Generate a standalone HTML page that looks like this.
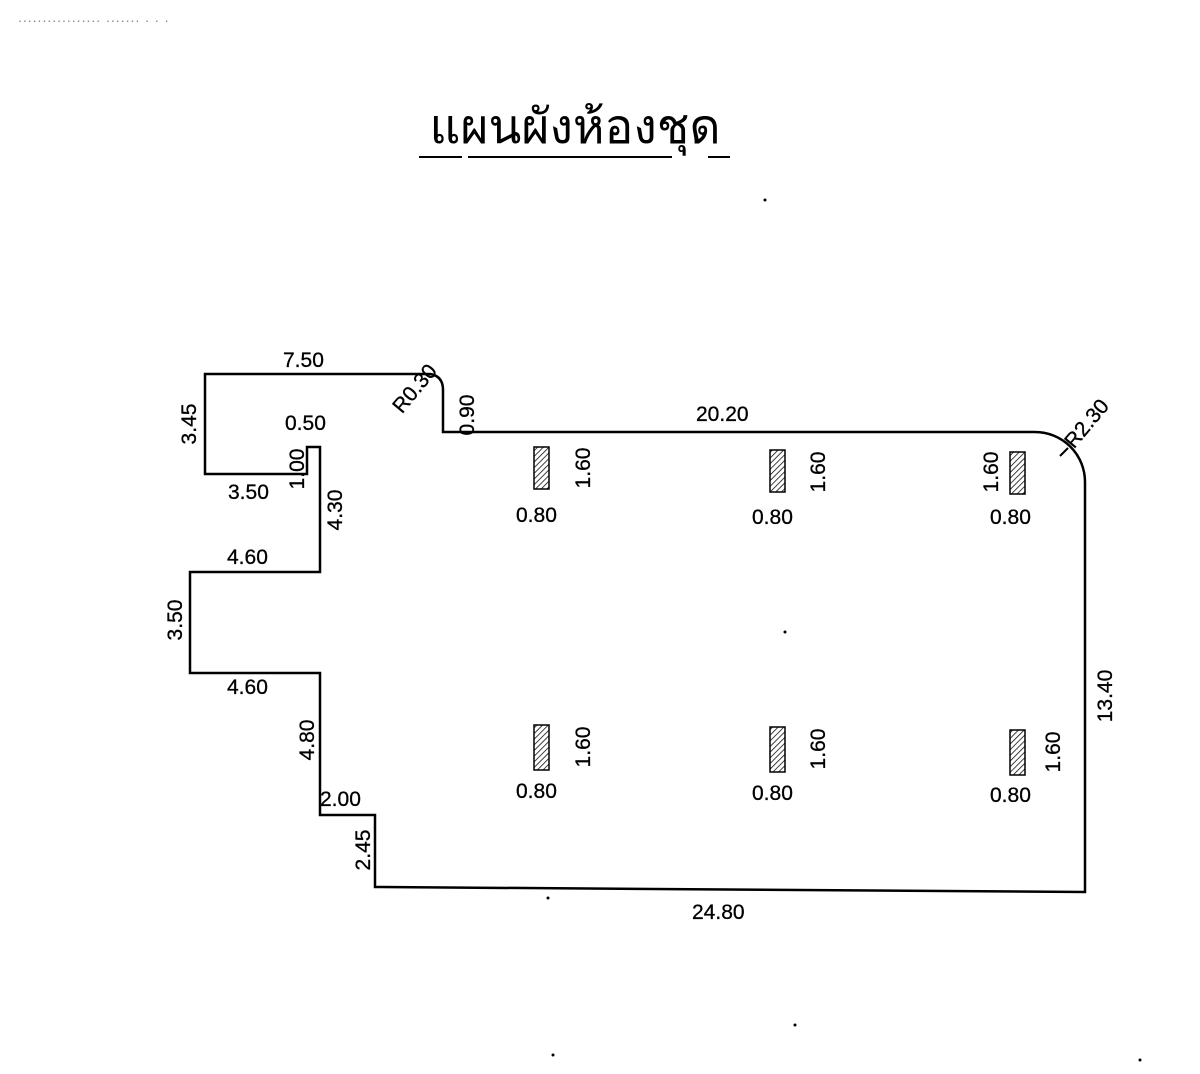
<!DOCTYPE html>
<html><head><meta charset="utf-8"><style>
html,body{margin:0;padding:0;background:#fff;}
svg{display:block}
text{font-family:"Liberation Sans","DejaVu Sans",sans-serif;fill:#000}
</style></head><body>
<svg width="1200" height="1074" viewBox="0 0 1200 1074" xmlns="http://www.w3.org/2000/svg">
<defs>
<pattern id="h" width="4" height="4" patternUnits="userSpaceOnUse" patternTransform="rotate(45)">
<line x1="0" y1="0" x2="0" y2="4" stroke="#000" stroke-width="1.5"/></pattern>
</defs>
<text x="18" y="22" font-size="14" letter-spacing="1" style="fill:#888">.................  .......  . . .</text>
<text x="575" y="143" font-size="48" text-anchor="middle" font-family="'DejaVu Sans',sans-serif">แผนผังห้องชุด</text>
<line x1="419" y1="157" x2="462" y2="157" stroke="#000" stroke-width="2"/>
<line x1="468" y1="157" x2="672" y2="157" stroke="#000" stroke-width="2"/>
<line x1="708" y1="157" x2="730" y2="157" stroke="#000" stroke-width="2"/>
<circle cx="765" cy="200" r="1.5" fill="#000"/>
<circle cx="785" cy="632" r="1.5" fill="#000"/>
<path d="M205,374 H430 Q443,376 443,390 V432 H1035 A50,50 0 0 1 1085,482 V892 L375,887 V815 H320 V673 H190 V572 H320 V447 H307 V474 H205 Z" fill="none" stroke="#000" stroke-width="2.5"/>
<g fill="url(#h)" stroke="#000" stroke-width="1.5">
<rect x="534" y="447" width="15" height="42"/>
<rect x="770" y="450" width="15" height="42"/>
<rect x="1010" y="452" width="15" height="42"/>
<rect x="534" y="725" width="15" height="45"/>
<rect x="770" y="727" width="15" height="45"/>
<rect x="1010" y="730" width="15" height="45"/>
</g>
<g font-size="21" stroke="#000" stroke-width="0.3">
<text x="283" y="367">7.50</text>
<text x="285" y="430">0.50</text>
<text x="228" y="499">3.50</text>
<text x="227" y="564">4.60</text>
<text x="227" y="694">4.60</text>
<text x="320" y="806">2.00</text>
<text x="696" y="421">20.20</text>
<text x="692" y="919">24.80</text>
<text x="516" y="522">0.80</text>
<text x="752" y="524">0.80</text>
<text x="990" y="524">0.80</text>
<text x="516" y="798">0.80</text>
<text x="752" y="800">0.80</text>
<text x="990" y="802">0.80</text>
<text transform="translate(196,424) rotate(-90)" text-anchor="middle">3.45</text>
<text transform="translate(182,620) rotate(-90)" text-anchor="middle">3.50</text>
<text transform="translate(304,469) rotate(-90)" text-anchor="middle">1.00</text>
<text transform="translate(342,510) rotate(-90)" text-anchor="middle">4.30</text>
<text transform="translate(314,740) rotate(-90)" text-anchor="middle">4.80</text>
<text transform="translate(370,850) rotate(-90)" text-anchor="middle">2.45</text>
<text transform="translate(474,415) rotate(-90)" text-anchor="middle">0.90</text>
<text transform="translate(1112,696) rotate(-90)" text-anchor="middle">13.40</text>
<text transform="translate(590,468) rotate(-90)" text-anchor="middle">1.60</text>
<text transform="translate(825,472) rotate(-90)" text-anchor="middle">1.60</text>
<text transform="translate(998,472) rotate(-90)" text-anchor="middle">1.60</text>
<text transform="translate(590,747) rotate(-90)" text-anchor="middle">1.60</text>
<text transform="translate(825,749) rotate(-90)" text-anchor="middle">1.60</text>
<text transform="translate(1060,752) rotate(-90)" text-anchor="middle">1.60</text>
<text transform="translate(420,393) rotate(-50)" text-anchor="middle">R0.30</text>
<text transform="translate(1092,428) rotate(-50)" text-anchor="middle">R2.30</text>
</g>
<line x1="1068" y1="448" x2="1060" y2="456" stroke="#000" stroke-width="2"/>
<circle cx="548" cy="898" r="1.5"/>
<circle cx="795" cy="1025" r="1.5"/>
<circle cx="553" cy="1055" r="1.5"/>
<circle cx="1140" cy="1060" r="1.5"/>
</svg>
</body></html>
